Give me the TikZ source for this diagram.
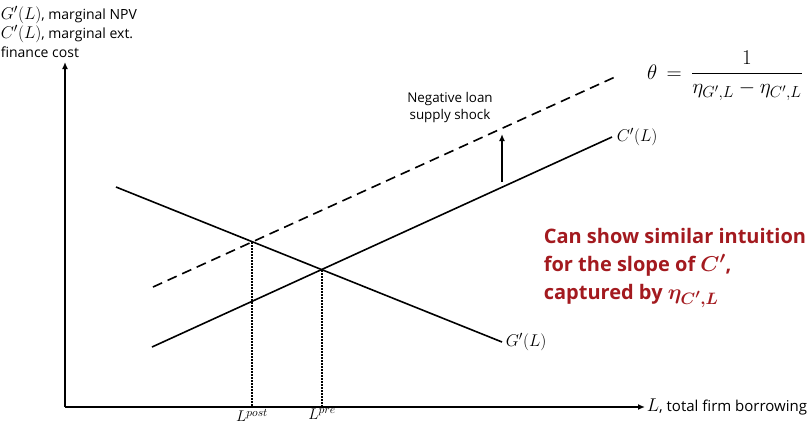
\RequirePackage{fix-cm}
\documentclass[tikz,border=0pt]{standalone}
\usepackage{amsmath,bm}
\usepackage{fontspec}
\setmainfont{Open Sans}
\usepackage{tikz}
\usetikzlibrary{arrows.meta}
\definecolor{noteRed}{HTML}{A31A1F}
\DeclareMathSizes{14}{17}{13}{10}
\DeclareMathSizes{13}{15.5}{11.5}{9}
\DeclareMathSizes{15}{18.5}{14}{10.5}
\DeclareMathSizes{13.4}{16}{12}{9}
\DeclareMathSizes{16}{21}{16}{12}
\DeclareMathSizes{20}{21.5}{16.5}{13}

\begin{document}
\begin{tikzpicture}[x=1pt,y=-1pt,>={Latex[length=7pt,width=6pt]},line width=1.6pt]
  \useasboundingbox (0,0) rectangle (810,424);
  % axes
  \coordinate (O) at (65,407);
  \coordinate (ytop) at (65,62);
  \coordinate (xend) at (645,407);
  \draw[->] (O) -- (ytop);
  \draw[->] (O) -- (xend);
  \node[right,inner sep=1pt,font=\fontsize{15}{18}\selectfont] (xlab) at (xend) {$L$, total firm borrowing};
  \node[anchor=north west,align=left,inner sep=0pt,font=\fontsize{14}{19}\selectfont] (ylab) at (0,5)
    {$G'(L)$, marginal NPV\\$C'(L)$, marginal ext.\\finance cost};
  % curves
  \coordinate (gA) at (116,187);
  \coordinate (gB) at (502,342);
  \coordinate (cA) at (152,347);
  \coordinate (cB) at (612,137);
  \coordinate (dA) at (153,287);
  \coordinate (dB) at (615,77);
  \draw (gA) -- (gB);
  \draw (cA) -- (cB);
  \draw[dash pattern=on 10pt off 6pt] (dA) -- (dB);
  \node[right,inner sep=3pt,font=\fontsize{14}{18}\selectfont] (glab) at (gB) {$G'(L)$};
  \node[right,inner sep=4pt,font=\fontsize{14}{18}\selectfont] (clab) at (cB) {$C'(L)$};
  % equilibria
  \coordinate (pre) at (322,270);
  \coordinate (post) at (252,242);
  \draw[dash pattern=on 1.6pt off 1.4pt] (pre) -- (pre |- O) node[below,inner sep=1.2pt,font=\fontsize{13}{16}\selectfont] (prelab) {$L^{pre}$};
  \draw[dash pattern=on 1.6pt off 1.4pt] (post) -- (post |- O) node[below,inner sep=1.2pt,font=\fontsize{13}{16}\selectfont] (postlab) {$L^{post}$};
  % shock
  \coordinate (sLow) at (502,182);
  \coordinate (sHigh) at (502,134);
  \draw[->] (sLow) -- (sHigh);
  \node[align=center,font=\fontsize{13.4}{17}\selectfont] (shock) at (450,108) {Negative loan\\supply shock};
  \node[font=\fontsize{16}{20}\selectfont] (theta) at (725,76)
    {$\theta\,=\,\dfrac{1}{\eta_{G',L}-\eta_{C',L}}$};
  \node[anchor=west,align=left,text=noteRed,inner sep=0pt,font=\bfseries\fontsize{20}{28}\selectfont] (note) at (543,268)
    {Can show similar intuition\\for the slope of $\bm{C'}$,\\captured by $\bm{\eta_{C',L}}$};
\end{tikzpicture}
\end{document}
